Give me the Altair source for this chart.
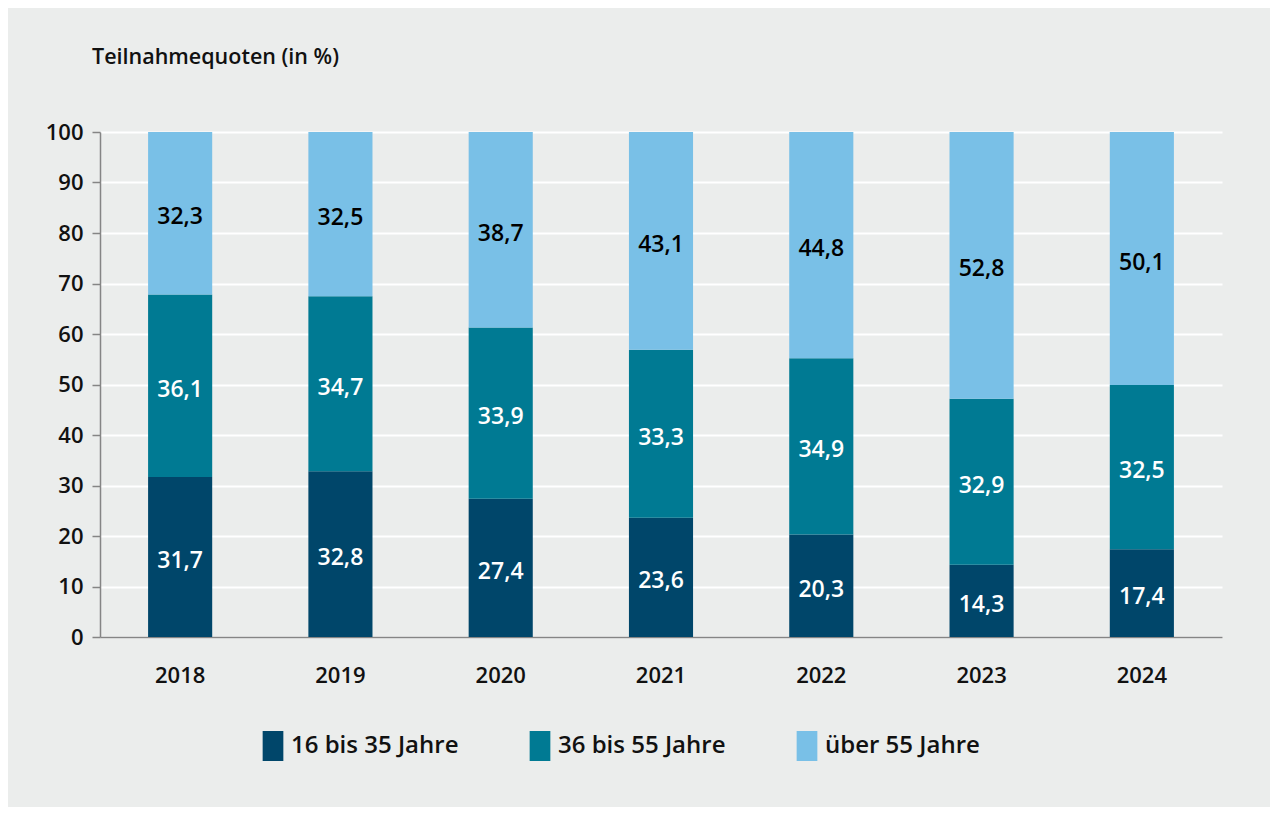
import altair as alt
import pandas as pd

years = ["2018", "2019", "2020", "2021", "2022", "2023", "2024"]
young = [31.7, 32.8, 27.4, 23.6, 20.3, 14.3, 17.4]
middle = [36.1, 34.7, 33.9, 33.3, 34.9, 32.9, 32.5]
old = [32.3, 32.5, 38.7, 43.1, 44.8, 52.8, 50.1]
groups = ["16 bis 35 Jahre", "36 bis 55 Jahre", "über 55 Jahre"]
colors = ["#00466a", "#007a93", "#79c0e7"]
y_ticks = [0, 10, 20, 30, 40, 50, 60, 70, 80, 90, 100]

rows = []
for i, yr in enumerate(years):
    for k, (g, vals) in enumerate(zip(groups, [young, middle, old])):
        rows.append({"Jahr": yr, "Gruppe": g, "ord": k, "Wert": vals[i]})
df = pd.DataFrame(rows)

FONT = "Open Sans"
AXIS_GREY = "#858585"

base = alt.Chart(df).transform_stack(
    stack="Wert",
    groupby=["Jahr"],
    sort=[alt.SortField("ord", order="ascending")],
    as_=["y0", "y1"],
).transform_calculate(
    mid="(datum.y0 + datum.y1) / 2",
    label="replace(format(datum.Wert, '.1f'), '.', ',')",
)

x_enc = alt.X(
    "Jahr:N",
    sort=years,
    scale=alt.Scale(paddingInner=0.6, paddingOuter=0.3),
    axis=alt.Axis(
        title=None, labelAngle=0, ticks=False, grid=False,
        domainColor=AXIS_GREY, domainWidth=1.5,
        labelFont=FONT, labelFontSize=22, labelFontWeight=600, labelColor="#111111",
        labelPadding=28,
    ),
)

bars = base.mark_bar(clip=True).encode(
    x=x_enc,
    y=alt.Y(
        "y0:Q",
        scale=alt.Scale(domain=[0, 100], nice=False),
        axis=alt.Axis(
            values=y_ticks, title=None, grid=True, gridColor="#ffffff", gridWidth=2,
            domainColor=AXIS_GREY, domainWidth=1.5, tickColor=AXIS_GREY, tickSize=8, tickWidth=1.5,
            labelFont=FONT, labelFontSize=22, labelFontWeight=600, labelColor="#111111",
            labelPadding=9,
        ),
    ),
    y2="y1:Q",
    color=alt.Color(
        "Gruppe:N",
        scale=alt.Scale(domain=groups, range=colors),
        legend=alt.Legend(
            orient="none", legendX=158, legendY=599, direction="horizontal", title=None,
            symbolType="M-0.69,-1H0.69V1H-0.69Z", symbolSize=900, symbolStrokeWidth=0,
            symbolOpacity=1, labelFont=FONT, labelFontSize=24, labelFontWeight=600,
            labelColor="#111111", labelOffset=3, columnPadding=66, labelLimit=400,
        ),
    ),
)

labels = base.mark_text(font=FONT, fontSize=23, fontWeight=600, baseline="middle", dy=4).encode(
    x=alt.X("Jahr:N", sort=years),
    y=alt.Y("mid:Q"),
    text="label:N",
    color=alt.condition("datum.Gruppe == 'über 55 Jahre'", alt.value("#000000"), alt.value("#ffffff")),
)

chart = alt.layer(bars, labels).properties(
    width=1122,
    height=505,
    background="#ebedec",
    autosize=alt.AutoSizeParams(type="none"),
    padding={"left": 92, "top": 124, "right": 48, "bottom": 170},
    title=alt.Title(
        "Teilnahmequoten (in %)", anchor="start", frame="group", dx=-8, offset=53,
        font=FONT, fontSize=21.5, fontWeight=600, color="#111111",
    ),
).configure_view(stroke=None)

chart.save("out.html", embed_options={"renderer": "svg", "actions": False})
